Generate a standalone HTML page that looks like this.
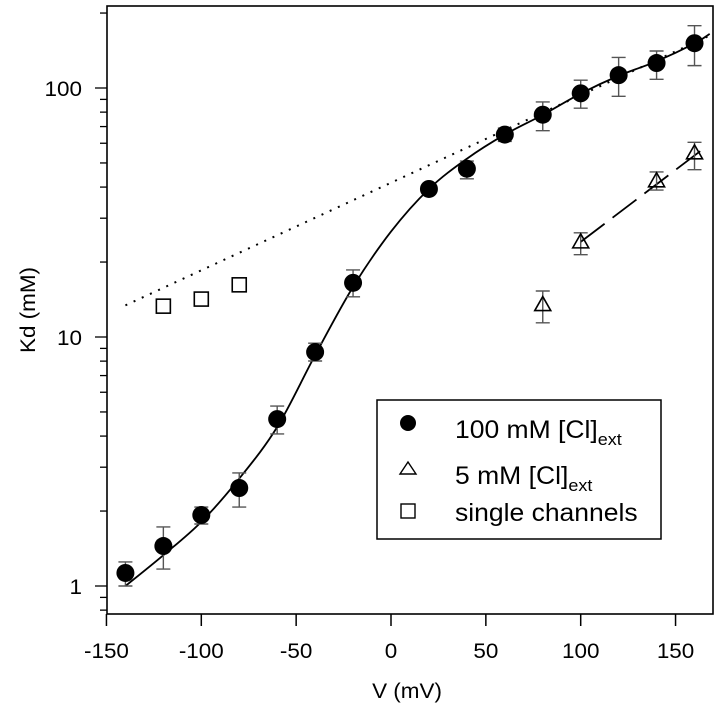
<!DOCTYPE html>
<html><head><meta charset="utf-8"><style>
body{margin:0;background:#fff;}
svg{display:block;font-family:"Liberation Sans",sans-serif;}
</style></head><body>
<svg id="chart" width="720" height="710" viewBox="0 0 720 710">
<g id="curves"></g><g id="marks"></g><g id="axes"></g>
<g>
<rect x="377" y="400" width="284" height="139" fill="#fff" stroke="#000" stroke-width="1.5"/>
<circle cx="408" cy="423" r="8" fill="#000"/>
<text transform="translate(455,438) scale(1.06,1)" font-size="25">100 mM [Cl]<tspan font-size="17" dy="7">ext</tspan></text>
<path d="M400,474 L408,462 L416,474 Z" fill="#fff" stroke="#000" stroke-width="1.4"/>
<text transform="translate(455,484) scale(1.06,1)" font-size="25">5 mM [Cl]<tspan font-size="17" dy="7">ext</tspan></text>
<rect x="401" y="504" width="14" height="14" fill="#fff" stroke="#000" stroke-width="1.4"/>
<text transform="translate(455,521) scale(1.06,1)" font-size="25">single channels</text>
</g>
</svg>
<script>
const circV=[-140,-120,-100,-80,-60,-40,-20,20,40,60,80,100,120,140,160];
const circK=[1.128,1.447,1.928,2.475,4.68,8.70,16.5,39.3,47.4,65.0,78.1,95.2,112.6,126.0,151.3];
const circLo=[1.0,1.17,1.774,2.075,4.08,8.01,14.5,38,43.2,61,67.4,83.0,92.6,108.4,123];
const circHi=[1.249,1.726,2.075,2.845,5.28,9.44,18.6,41,50.9,69,87.9,107.5,132.6,140.8,178];
const triV=[80,100,140,160];
const triK=[13.5,24.1,42.4,54.9];
const triLo=[11.4,21.4,38.9,47.0];
const triHi=[15.3,26.2,46.0,60.5];
const sqV=[-120,-100,-80];
const sqK=[13.3,14.2,16.2];
const fitV=[-140,-120,-100,-80,-60,-40,-20,0,20,40,60,80,100,120,140,160,168];
const fitK=[1.0,1.33,1.81,2.7,4.35,8.45,15.9,26.5,39.3,52.0,65,78,95,112,128,151,165];
const dotV=[-140,170];
const dotK=[13.4,165];
const dashV=[100,164];
const dashK=[24.1,56.5];
const xTicks=[-150,-100,-50,0,50,100,150];
const yMajor=[1,10,100];

const X=v=>391+v*1.897;
const Y=k=>586-249*Math.log10(k);
const NS="http://www.w3.org/2000/svg";
function mk(tag,parent,attrs){const e=document.createElementNS(NS,tag);for(const a in attrs)e.setAttribute(a,attrs[a]);parent.appendChild(e);return e;}
const curves=document.getElementById('curves'),marks=document.getElementById('marks'),axes=document.getElementById('axes');

let pts=fitV.map((v,i)=>[X(v),Y(fitK[i])]);
let d="M"+pts[0][0]+","+pts[0][1];
for(let i=0;i<pts.length-1;i++){const p0=pts[Math.max(0,i-1)],p1=pts[i],p2=pts[i+1],p3=pts[Math.min(pts.length-1,i+2)];
d+=" C"+(p1[0]+(p2[0]-p0[0])/6)+","+(p1[1]+(p2[1]-p0[1])/6)+" "+(p2[0]-(p3[0]-p1[0])/6)+","+(p2[1]-(p3[1]-p1[1])/6)+" "+p2[0]+","+p2[1];}
let e=mk('path',curves,{d:d,fill:'none',stroke:'#000','stroke-width':1.8});


e=mk('line',curves,{x1:X(dotV[0]),y1:Y(dotK[0]),x2:X(dotV[1]),y2:Y(dotK[1]),stroke:'#000','stroke-width':2,'stroke-dasharray':'2 7'});


e=mk('line',curves,{x1:X(dashV[0]),y1:Y(dashK[0]),x2:X(dashV[1]),y2:Y(dashK[1]),stroke:'#000','stroke-width':1.8,'stroke-dasharray':'30 10'});



function errbar(v,lo,hi,name){const x=X(v);
e=mk('path',marks,{d:`M${x},${Y(lo)}V${Y(hi)}M${x-7},${Y(lo)}h14M${x-7},${Y(hi)}h14`,stroke:'#555','stroke-width':1.4,fill:'none'});

}
circV.forEach((v,i)=>{errbar(v,circLo[i],circHi[i],'errorbar-100mm');
e=mk('circle',marks,{cx:X(v),cy:Y(circK[i]),r:9,fill:'#000'});

});
triV.forEach((v,i)=>{errbar(v,triLo[i],triHi[i],'errorbar-5mm');
const x=X(v),y=Y(triK[i]);
e=mk('path',marks,{d:`M${x-8},${y+6}L${x},${y-8}L${x+8},${y+6}Z`,fill:'none',stroke:'#000','stroke-width':1.6});

});
sqV.forEach((v,i)=>{
e=mk('rect',marks,{x:X(v)-7,y:Y(sqK[i])-7,width:14,height:14,fill:'#fff',stroke:'#000','stroke-width':1.6});

});

e=mk('rect',axes,{x:107,y:6,width:606,height:608,fill:'none',stroke:'#000','stroke-width':1.6});


xTicks.forEach(v=>{const x=X(v);
e=mk('line',axes,{x1:x,y1:614,x2:x,y2:626,stroke:'#000','stroke-width':1.5});


e=mk('text',axes,{transform:`translate(${x},658) scale(1.07,1)`,'font-size':21,'text-anchor':'middle'});e.textContent=v;

});
for(let dec=0.1;dec<=100;dec*=10){for(let m=1;m<=9;m++){const k=dec*m;if(k<0.78||k>212)continue;const y=Y(k);
const major=yMajor.some(t=>Math.abs(t-k)<1e-6);
e=mk('line',axes,{x1:major?95:100,y1:y,x2:107,y2:y,stroke:'#000','stroke-width':1.3});


if(major){e=mk('text',axes,{transform:`translate(82,${y+8}) scale(1.07,1)`,'font-size':21,'text-anchor':'end'});e.textContent=Math.round(k);

}}}
e=mk('text',axes,{transform:'translate(407,698) scale(1.07,1)','font-size':21,'text-anchor':'middle'});e.textContent='V (mV)';


e=mk('text',axes,{'font-size':21,'text-anchor':'middle',transform:'translate(35,310) rotate(-90) scale(1.07,1)'});e.textContent='Kd (mM)';


</script>
</body></html>
